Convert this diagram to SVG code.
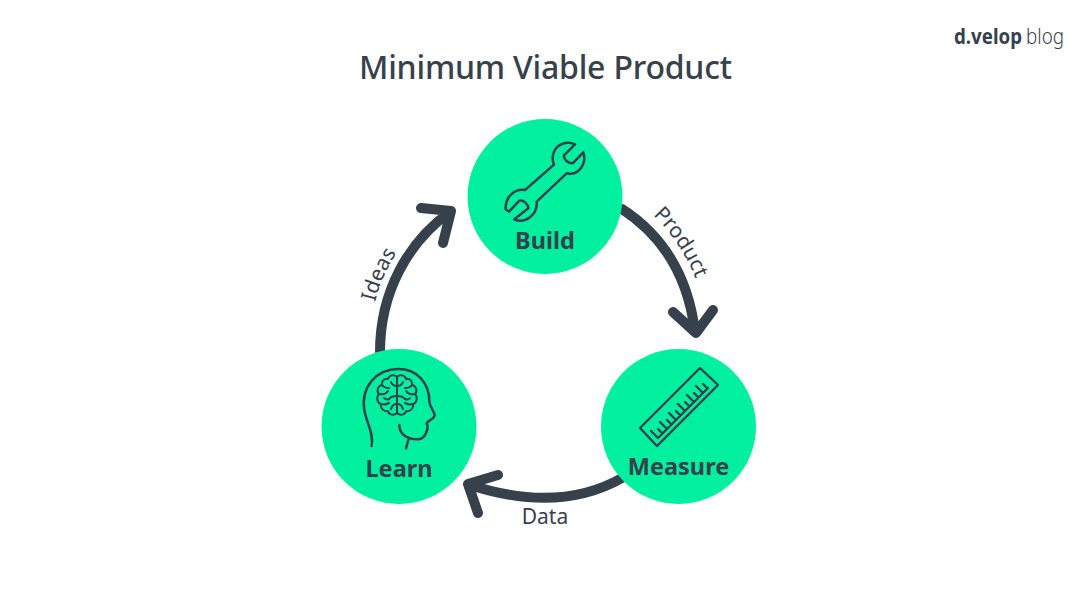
<svg xmlns="http://www.w3.org/2000/svg" width="1090" height="605" viewBox="0 0 1090 605">
<style>
text{font-family:"Noto Sans","Open Sans","Liberation Sans",sans-serif;fill:#36414c}
.n{fill:#00f0a0}
.l{font-size:23.500px;font-weight:700;text-anchor:middle}
.e{font-size:21px}
.a{fill:none;stroke:#36414c;stroke-width:10;stroke-linecap:round;stroke-linejoin:round}
.i{fill:none;stroke:#36414c;stroke-width:7.500;stroke-linecap:round;stroke-linejoin:round}
.j{fill:none;stroke:#36414c;stroke-width:2.400;stroke-linecap:round;stroke-linejoin:round}
.b{fill:none;stroke:#36414c;stroke-width:2;stroke-linecap:round;stroke-linejoin:round}
</style>
<defs>
<path id="p-product" d="M653 215Q682 243 697 282"/>
<path id="p-ideas" d="M375 302Q381 277 396 254"/>
<path id="brain-half" d="M0 -19C-3 -22 -8 -21 -9 -17C-13 -18 -16 -14 -15 -11C-19 -10 -21 -5 -18 -2C-21 1 -20 7 -16 8C-17 12 -13 16 -9 15C-8 19 -3 20 0 17M0 -10C-3 -10 -5 -11 -6 -14M-15 -11C-13 -8 -10 -8 -8 -8M-18 -2C-14 -1 -11 -2 -9 -5M0 0C-3 0 -6 0 -8 3C-10 4 -12 3 -13 2M-16 8C-13 9 -10 8 -8 7M0 8C-2 8 -5 9 -6 13"/>
</defs>
<rect width="1090" height="605" fill="#fff"/>
<text x="545.500" y="79" font-size="32" font-weight="500" text-anchor="middle" textLength="373" lengthAdjust="spacing">Minimum Viable Product</text>
<g id="logo"><text x="954" y="44" font-size="21" font-weight="700" textLength="68" lengthAdjust="spacingAndGlyphs">d.velop</text><text x="1026" y="44" font-size="22" font-weight="300" textLength="38" lengthAdjust="spacingAndGlyphs">blog</text></g>
<g id="connectors">
<path class="a" d="M622 209C662 235 688 275 695 332M673 312L696 333L713 310"/>
<path class="a" d="M622 478C585 499 535 506 470 485M498 475L468 484L478 513"/>
<path class="a" d="M380 352C380 292 408 242 450 212M421 208L451 211L443 243"/>
</g>
<g id="edge-labels">
<text class="e"><textPath href="#p-product">Product</textPath></text>
<text class="e" x="545" y="524" text-anchor="middle">Data</text>
<text class="e"><textPath href="#p-ideas">Ideas</textPath></text>
</g>
<g id="build">
<circle class="n" cx="545" cy="196.500" r="77.500"/>
<path class="i" transform="translate(460 110) scale(.3333)" d="M345 103C320 92 292 102 282 125C276 140 277 152 282 164L195 240C162 236 135 262 137 298L147 305L178 272C192 270 204 282 205 295L163 328C195 342 234 315 230 275L320 190C352 198 382 165 370 127L338 160C325 160 310 150 312 136Z"/>
<text class="l" x="545" y="249">Build</text>
</g>
<g id="measure">
<circle class="n" cx="678.500" cy="426.500" r="77.500"/>
<g class="j">
<path d="M700 368L718 385L657 446L640 428Z"/>
<path d="M658 438L708 388M658 438L651 431M662.500 433.500L658 429M667 429L660 422M671.500 424.500L667 420M676 420L669 413M680.500 415.500L676 411M685 411L678 404M689.500 406.500L685 402M694 402L687 395M698.500 397.500L694 393M703 393L696 386M707.500 388.500L703 384"/>
</g>
<text class="l" x="678.500" y="475">Measure</text>
</g>
<g id="learn">
<circle class="n" cx="399" cy="426.500" r="77.500"/>
<path class="i" transform="translate(320 345) scale(.3333)" d="M155 303C162 265 140 235 133 195C122 125 170 72 235 72C290 72 328 112 328 170C330 190 345 200 344 212C340 225 325 225 320 235C326 245 320 280 295 283C265 284 238 270 238 240M265 285L258 310"/>
<g transform="translate(397 396)">
<use class="b" href="#brain-half"/>
<use class="b" href="#brain-half" transform="scale(-1 1)"/>
<path class="b" d="M0 -19V17"/>
</g>
<text class="l" x="399" y="477">Learn</text>
</g>
</svg>
